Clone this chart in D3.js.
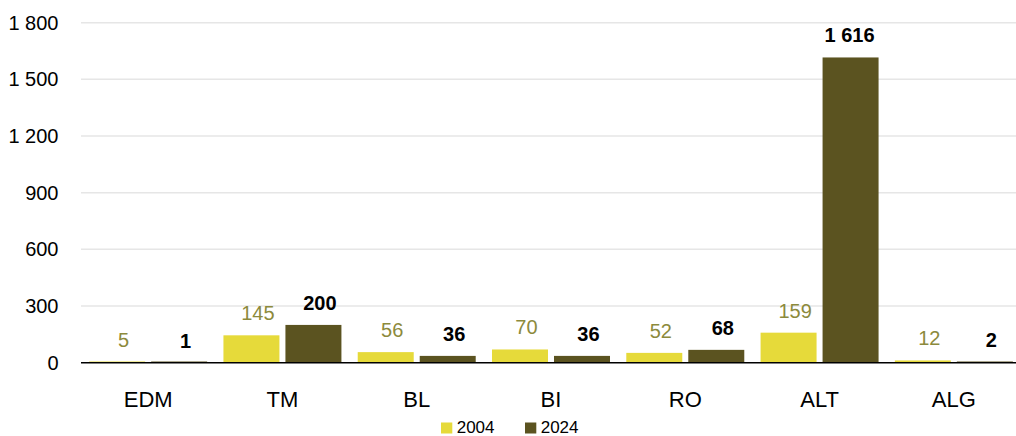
<!DOCTYPE html>
<html><head><meta charset="utf-8">
<script src="https://cdn.jsdelivr.net/npm/d3@7"></script>
<style>body{margin:0;background:#fff}svg{display:block}text{font-family:"Liberation Sans",Arial,sans-serif}</style>
</head><body><svg id="c" width="1016" height="436"></svg>
<script>
const categories = ["EDM","TM","BL","BI","RO","ALT","ALG"];
const seriesNames = ["2004","2024"];
const values2004 = [5,145,56,70,52,159,12];
const values2024 = [1,200,36,36,68,1616,2];
const yTicks = [0,300,600,900,1200,1500,1800];
const colors = ["#e6da3a","#5b5320"];
const labelColors = ["#8c8a3c","#000000"];

const W=1016,H=436;
const svg=d3.select("#c");
const loc=d3.formatLocale({decimal:",",thousands:" ",grouping:[3],currency:["",""]});
const fmt=loc.format(",d");
const x=d3.scaleBand().domain(categories).range([81,1021]).paddingInner(0).paddingOuter(0);
const x1=d3.scaleBand().domain(seriesNames).range([0,x.bandwidth()]).paddingInner(6/62).paddingOuter(8.15/62);
const y=d3.scaleLinear().domain([0,1800]).range([362.7,22.7]);

// grid
svg.append("g").selectAll("line").data(yTicks.slice(1)).join("line")
 .attr("x1",81).attr("x2",W).attr("y1",d=>y(d)).attr("y2",d=>y(d))
 .attr("stroke","#e6e6e6").attr("stroke-width",1.5);

// y axis labels
const ya=svg.append("g").attr("transform",`translate(81,0)`).call(d3.axisLeft(y).tickValues(yTicks).tickFormat(fmt).tickSize(0).tickPadding(22.5));
ya.select(".domain").remove();
ya.selectAll("text").attr("font-size",20).attr("fill","#000").style("font-family","Liberation Sans, Arial, sans-serif");

const data=categories.map((c,i)=>({c,vals:[values2004[i],values2024[i]]}));
const g=svg.append("g").selectAll("g").data(data).join("g").attr("transform",d=>`translate(${x(d.c)},0)`);
g.selectAll("rect").data(d=>d.vals.map((v,j)=>({v,j}))).join("rect")
 .attr("x",d=>x1(seriesNames[d.j])).attr("width",x1.bandwidth())
 .attr("y",d=>Math.min(y(d.v),y(0)-1.2)).attr("height",d=>Math.max(y(0)-y(d.v),1.2)).attr("fill",d=>colors[d.j]);
g.selectAll("text").data(d=>d.vals.map((v,j)=>({v,j}))).join("text")
 .attr("x",d=>x1(seriesNames[d.j])+x1.bandwidth()/2+(d.v>=1000?-1:6.5)).attr("y",d=>y(d.v)-15)
 .attr("text-anchor","middle").attr("font-size",20)
 .attr("font-weight",d=>d.j===1?"bold":"normal").attr("fill",d=>labelColors[d.j])
 .text(d=>fmt(d.v));

// x axis
svg.append("line").attr("x1",81).attr("x2",W).attr("y1",y(0)).attr("y2",y(0)).attr("stroke","#000").attr("stroke-width",1.5);
const xa=svg.append("g").attr("transform",`translate(0,${y(0)})`).call(d3.axisBottom(x).tickSize(0).tickPadding(28.4));
xa.select(".domain").remove();
xa.selectAll("text").attr("font-size",22).attr("fill","#000").style("font-family","Liberation Sans, Arial, sans-serif");

// legend
const lg=svg.append("g").selectAll("g").data(seriesNames).join("g").attr("transform",(d,i)=>`translate(${441+i*84},422.5)`);
lg.append("rect").attr("width",11.3).attr("height",11).attr("fill",(d,i)=>colors[i]);
lg.append("text").attr("x",15.7).attr("y",10.8).attr("font-size",17).attr("fill","#000").text(d=>d);
</script></body></html>
